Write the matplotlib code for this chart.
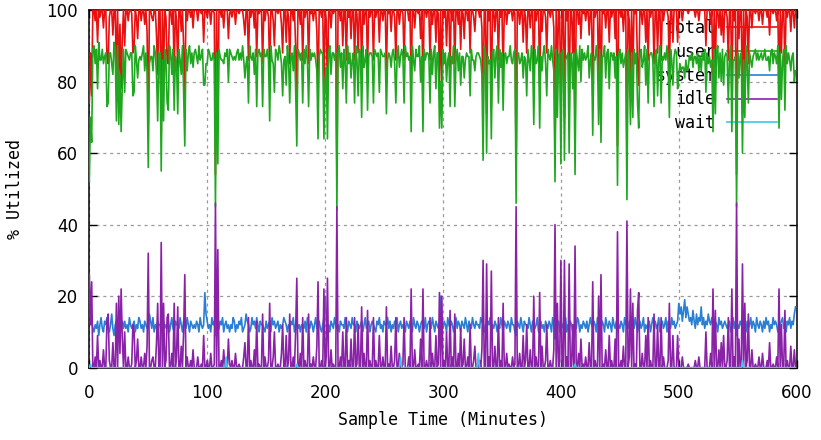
import numpy as np
import matplotlib
matplotlib.use("Agg")
import matplotlib.pyplot as plt

# sample time in minutes, one sample per minute
minutes = np.arange(0, 600)

# % system, 30 samples per row
system = [
    22, 18, 13, 11, 10, 12, 11, 13, 9, 12, 14, 11, 10, 13, 12, 14, 11, 10, 12, 15, 11, 9, 12, 13, 10, 12, 14, 12, 13, 11,
    13, 11, 12, 10, 14, 12, 11, 12, 13, 10, 12, 11, 14, 13, 11, 12, 10, 13, 12, 11, 12, 15, 13, 11, 14, 10, 12, 11, 13, 12,
    12, 10, 14, 13, 11, 12, 12, 13, 10, 12, 14, 11, 10, 13, 12, 12, 11, 14, 12, 10, 13, 12, 11, 14, 12, 10, 13, 12, 11, 12,
    11, 13, 12, 10, 14, 12, 11, 12, 21, 15, 13, 11, 12, 10, 14, 12, 13, 9, 12, 10, 11, 13, 12, 14, 10, 12, 13, 11, 12, 10,
    12, 11, 14, 13, 10, 12, 11, 13, 12, 14, 10, 11, 12, 15, 13, 12, 10, 11, 14, 12, 13, 11, 14, 12, 10, 13, 12, 12, 11, 10,
    13, 11, 12, 13, 10, 14, 12, 13, 11, 12, 13, 10, 12, 11, 12, 14, 13, 12, 10, 12, 11, 13, 12, 14, 10, 12, 13, 11, 12, 10,
    12, 12, 11, 13, 10, 14, 12, 11, 13, 12, 10, 12, 14, 11, 12, 13, 11, 10, 12, 14, 20, 13, 11, 12, 10, 13, 12, 11, 14, 12,
    11, 12, 10, 13, 12, 12, 11, 14, 12, 10, 13, 12, 11, 14, 12, 12, 10, 13, 12, 11, 12, 13, 10, 12, 14, 11, 12, 13, 10, 12,
    13, 12, 11, 10, 13, 12, 14, 11, 12, 10, 13, 12, 12, 14, 11, 13, 10, 12, 11, 13, 12, 14, 10, 12, 13, 11, 12, 12, 10, 13,
    12, 11, 13, 12, 10, 14, 12, 11, 13, 12, 10, 12, 13, 12, 11, 14, 10, 12, 13, 12, 11, 14, 12, 10, 13, 12, 11, 12, 20, 13,
    11, 13, 12, 10, 14, 12, 11, 13, 12, 10, 12, 14, 11, 13, 12, 10, 13, 12, 11, 14, 12, 10, 13, 12, 11, 14, 12, 11, 13, 12,
    12, 11, 14, 13, 12, 10, 12, 11, 13, 12, 14, 9, 12, 11, 13, 12, 10, 12, 11, 14, 12, 10, 13, 12, 11, 13, 12, 10, 14, 12,
    12, 10, 9, 13, 12, 11, 14, 12, 10, 13, 12, 12, 11, 14, 12, 10, 13, 12, 11, 12, 14, 10, 12, 13, 11, 12, 10, 13, 12, 11,
    13, 12, 10, 14, 12, 8, 11, 12, 13, 10, 13, 12, 11, 12, 14, 10, 12, 11, 13, 12, 10, 12, 12, 11, 14, 13, 10, 12, 11, 13,
    12, 11, 13, 10, 12, 14, 12, 11, 13, 12, 10, 14, 12, 11, 11, 13, 12, 10, 14, 12, 11, 13, 12, 10, 14, 12, 11, 13, 11, 12,
    11, 13, 12, 10, 14, 12, 12, 11, 13, 10, 12, 12, 11, 14, 12, 10, 12, 13, 11, 12, 14, 10, 12, 11, 12, 13, 10, 12, 14, 12,
    13, 11, 12, 14, 10, 12, 13, 11, 12, 14, 10, 13, 12, 11, 14, 12, 13, 11, 12, 13, 18, 15, 17, 13, 16, 19, 14, 17, 15, 13,
    14, 12, 16, 13, 11, 15, 12, 14, 13, 17, 12, 14, 11, 13, 12, 15, 13, 12, 14, 12, 11, 13, 12, 10, 14, 12, 13, 11, 12, 13,
    12, 11, 12, 13, 10, 12, 14, 11, 13, 9, 12, 11, 13, 12, 11, 14, 12, 10, 13, 11, 12, 14, 11, 13, 12, 10, 14, 12, 11, 13,
    12, 10, 13, 11, 14, 12, 13, 10, 12, 11, 14, 12, 13, 12, 10, 11, 12, 13, 14, 11, 12, 10, 13, 12, 14, 11, 13, 12, 15, 17,
]

# % idle
idle = [
    26, 12, 24, 0, 0, 3, 0, 9, 0, 2, 0, 0, 5, 0, 0, 13, 15, 2, 0, 0, 7, 0, 0, 18, 0, 20, 4, 22, 8, 0,
    10, 0, 0, 3, 0, 0, 1, 12, 10, 0, 2, 8, 0, 0, 3, 0, 0, 4, 0, 6, 32, 0, 0, 2, 3, 0, 0, 7, 18, 0,
    0, 35, 0, 18, 0, 2, 14, 15, 0, 0, 4, 0, 18, 0, 3, 17, 0, 0, 6, 0, 10, 26, 0, 3, 0, 0, 2, 0, 5, 0,
    0, 0, 3, 0, 0, 1, 0, 9, 0, 0, 2, 0, 0, 4, 0, 0, 1, 46, 0, 33, 0, 0, 2, 0, 5, 0, 0, 0, 8, 1,
    0, 2, 0, 0, 4, 0, 0, 1, 0, 0, 0, 3, 7, 0, 0, 14, 0, 2, 0, 0, 5, 0, 13, 0, 1, 0, 0, 15, 0, 3,
    0, 0, 2, 18, 0, 0, 3, 10, 0, 0, 1, 0, 0, 4, 12, 0, 0, 9, 0, 2, 15, 0, 0, 3, 0, 10, 25, 0, 0, 4,
    0, 14, 0, 2, 0, 0, 15, 0, 1, 0, 3, 0, 0, 6, 24, 0, 0, 2, 0, 22, 0, 3, 25, 0, 0, 5, 0, 1, 0, 0,
    45, 0, 0, 3, 0, 10, 0, 0, 14, 0, 2, 0, 8, 0, 0, 14, 0, 1, 12, 0, 0, 17, 0, 4, 0, 0, 16, 0, 2, 0,
    0, 14, 0, 2, 0, 0, 9, 0, 0, 3, 0, 0, 17, 0, 1, 0, 6, 0, 0, 2, 14, 0, 0, 4, 0, 0, 1, 14, 0, 0,
    0, 3, 0, 22, 0, 0, 5, 0, 0, 1, 0, 8, 0, 22, 0, 0, 2, 0, 0, 14, 0, 4, 0, 0, 9, 0, 1, 21, 0, 20,
    0, 2, 0, 10, 0, 0, 16, 0, 3, 0, 15, 0, 0, 4, 0, 11, 0, 1, 8, 0, 0, 3, 0, 12, 0, 0, 2, 6, 0, 0,
    0, 2, 0, 5, 30, 0, 0, 29, 0, 3, 0, 27, 0, 0, 6, 0, 0, 14, 0, 2, 0, 18, 0, 0, 4, 0, 1, 0, 0, 3,
    0, 1, 45, 0, 0, 4, 0, 0, 9, 0, 2, 12, 0, 0, 5, 0, 0, 20, 0, 3, 0, 0, 21, 0, 6, 0, 0, 2, 12, 0,
    0, 2, 0, 0, 5, 40, 0, 18, 0, 2, 30, 0, 0, 30, 0, 3, 0, 29, 0, 0, 12, 0, 34, 0, 0, 4, 0, 8, 0, 1,
    0, 3, 0, 0, 7, 0, 0, 24, 0, 2, 0, 0, 20, 0, 26, 0, 1, 0, 5, 0, 0, 9, 0, 2, 0, 0, 8, 0, 38, 0,
    0, 2, 0, 6, 0, 0, 41, 0, 3, 22, 0, 18, 0, 1, 0, 16, 21, 0, 0, 4, 0, 0, 9, 0, 14, 0, 2, 0, 0, 15,
    0, 0, 12, 0, 0, 14, 0, 3, 0, 0, 0, 2, 18, 0, 0, 9, 0, 0, 0, 9, 0, 0, 0, 3, 0, 0, 0, 0, 1, 0,
    0, 0, 0, 0, 2, 0, 0, 3, 0, 0, 0, 0, 0, 10, 0, 0, 0, 4, 0, 22, 0, 16, 0, 0, 5, 0, 7, 0, 9, 0,
    0, 2, 14, 0, 0, 22, 0, 3, 0, 46, 0, 8, 0, 0, 29, 0, 18, 0, 2, 15, 0, 0, 5, 0, 0, 1, 0, 0, 3, 0,
    0, 4, 0, 0, 0, 2, 0, 7, 0, 0, 1, 0, 0, 3, 0, 22, 0, 12, 0, 0, 16, 0, 2, 0, 0, 6, 0, 0, 5, 0,
]

# % user
user = [
    52, 70, 63, 89, 90, 85, 89, 78, 91, 86, 86, 89, 85, 87, 88, 73, 74, 88, 88, 85, 82, 91, 88, 69, 90, 68, 82, 66, 79, 89,
    77, 89, 88, 87, 86, 88, 88, 76, 77, 90, 86, 81, 86, 87, 86, 88, 90, 83, 88, 83, 56, 85, 87, 87, 83, 90, 88, 82, 69, 88,
    88, 55, 86, 69, 89, 86, 74, 72, 90, 88, 82, 89, 72, 87, 85, 71, 89, 86, 82, 90, 77, 62, 89, 83, 88, 90, 85, 88, 84, 88,
    89, 87, 85, 90, 86, 87, 89, 79, 79, 85, 85, 89, 88, 86, 86, 88, 86, 45, 88, 57, 89, 87, 86, 86, 85, 88, 87, 89, 80, 89,
    88, 87, 86, 87, 86, 88, 89, 86, 88, 86, 90, 86, 81, 85, 87, 74, 90, 87, 86, 88, 82, 89, 73, 88, 89, 87, 88, 73, 89, 87,
    87, 89, 86, 69, 90, 86, 85, 77, 89, 88, 86, 90, 88, 85, 76, 86, 87, 79, 90, 86, 74, 87, 88, 83, 90, 78, 62, 89, 88, 86,
    88, 74, 89, 85, 90, 86, 73, 89, 86, 88, 87, 88, 86, 83, 64, 87, 89, 88, 88, 64, 80, 84, 64, 88, 90, 82, 88, 88, 86, 88,
    44, 88, 90, 84, 88, 78, 89, 86, 74, 90, 85, 88, 81, 86, 88, 74, 90, 86, 76, 89, 88, 70, 90, 84, 86, 89, 72, 87, 88, 88,
    87, 74, 89, 88, 87, 88, 77, 89, 88, 87, 87, 88, 71, 86, 88, 87, 84, 88, 89, 85, 74, 86, 90, 84, 87, 89, 87, 74, 90, 87,
    88, 86, 87, 66, 90, 86, 83, 89, 87, 87, 90, 80, 87, 66, 89, 86, 88, 88, 87, 74, 89, 82, 88, 90, 78, 88, 88, 67, 80, 67,
    89, 85, 88, 80, 86, 88, 73, 87, 85, 90, 73, 86, 89, 83, 88, 79, 87, 87, 81, 86, 88, 87, 87, 76, 89, 86, 86, 83, 87, 88,
    88, 87, 86, 82, 58, 90, 88, 60, 87, 85, 86, 64, 88, 89, 81, 88, 90, 74, 89, 84, 88, 72, 87, 88, 85, 87, 87, 90, 86, 85,
    88, 89, 46, 87, 88, 85, 86, 88, 81, 87, 86, 76, 89, 86, 83, 90, 87, 68, 89, 85, 86, 90, 67, 87, 83, 88, 90, 85, 76, 89,
    87, 86, 90, 86, 83, 52, 89, 70, 87, 88, 57, 88, 89, 58, 86, 87, 88, 60, 87, 88, 78, 88, 54, 89, 86, 83, 90, 80, 89, 86,
    88, 86, 87, 90, 81, 86, 88, 65, 87, 86, 90, 86, 68, 89, 63, 87, 87, 90, 81, 88, 89, 78, 88, 88, 86, 88, 81, 87, 51, 88,
    89, 85, 88, 84, 86, 88, 47, 89, 84, 68, 88, 70, 89, 85, 88, 74, 67, 87, 89, 84, 86, 90, 79, 89, 74, 87, 88, 88, 86, 73,
    87, 89, 76, 86, 90, 74, 87, 86, 88, 86, 90, 85, 70, 89, 86, 79, 87, 89, 88, 78, 82, 85, 83, 84, 84, 81, 86, 83, 84, 87,
    86, 88, 84, 87, 87, 85, 88, 83, 87, 83, 88, 86, 89, 77, 88, 85, 87, 84, 86, 66, 89, 71, 88, 90, 81, 88, 80, 89, 79, 87,
    88, 87, 74, 87, 90, 66, 86, 86, 87, 45, 88, 81, 87, 88, 60, 86, 70, 90, 85, 74, 88, 86, 84, 87, 88, 89, 86, 88, 86, 87,
    88, 86, 87, 89, 86, 86, 87, 83, 88, 89, 85, 88, 87, 85, 90, 67, 88, 75, 86, 89, 72, 90, 85, 88, 86, 83, 87, 88, 80, 83,
]

# % total
total = [
    74, 88, 76, 100, 100, 97, 100, 91, 100, 98, 100, 100, 95, 100, 100, 87, 85, 98, 100, 100, 93, 100, 100, 82, 100, 80, 96, 78, 92, 100,
    90, 100, 100, 97, 100, 100, 99, 88, 90, 100, 98, 92, 100, 100, 97, 100, 100, 96, 100, 94, 68, 100, 100, 98, 97, 100, 100, 93, 82, 100,
    100, 65, 100, 82, 100, 98, 86, 85, 100, 100, 96, 100, 82, 100, 97, 83, 100, 100, 94, 100, 90, 74, 100, 97, 100, 100, 98, 100, 95, 100,
    100, 100, 97, 100, 100, 99, 100, 91, 100, 100, 98, 100, 100, 96, 100, 100, 99, 54, 100, 67, 100, 100, 98, 100, 95, 100, 100, 100, 92, 99,
    100, 98, 100, 100, 96, 100, 100, 99, 100, 100, 100, 97, 93, 100, 100, 86, 100, 98, 100, 100, 95, 100, 87, 100, 99, 100, 100, 85, 100, 97,
    100, 100, 98, 82, 100, 100, 97, 90, 100, 100, 99, 100, 100, 96, 88, 100, 100, 91, 100, 98, 85, 100, 100, 97, 100, 90, 75, 100, 100, 96,
    100, 86, 100, 98, 100, 100, 85, 100, 99, 100, 97, 100, 100, 94, 76, 100, 100, 98, 100, 78, 100, 97, 75, 100, 100, 95, 100, 99, 100, 100,
    55, 100, 100, 97, 100, 90, 100, 100, 86, 100, 98, 100, 92, 100, 100, 86, 100, 99, 88, 100, 100, 83, 100, 96, 100, 100, 84, 100, 98, 100,
    100, 86, 100, 98, 100, 100, 91, 100, 100, 97, 100, 100, 83, 100, 99, 100, 94, 100, 100, 98, 86, 100, 100, 96, 100, 100, 99, 86, 100, 100,
    100, 97, 100, 78, 100, 100, 95, 100, 100, 99, 100, 92, 100, 78, 100, 100, 98, 100, 100, 86, 100, 96, 100, 100, 91, 100, 99, 79, 100, 80,
    100, 98, 100, 90, 100, 100, 84, 100, 97, 100, 85, 100, 100, 96, 100, 89, 100, 99, 92, 100, 100, 97, 100, 88, 100, 100, 98, 94, 100, 100,
    100, 98, 100, 95, 70, 100, 100, 71, 100, 97, 100, 73, 100, 100, 94, 100, 100, 86, 100, 98, 100, 82, 100, 100, 96, 100, 99, 100, 100, 97,
    100, 99, 55, 100, 100, 96, 100, 100, 91, 100, 98, 88, 100, 100, 95, 100, 100, 80, 100, 97, 100, 100, 79, 100, 94, 100, 100, 98, 88, 100,
    100, 98, 100, 100, 95, 60, 100, 82, 100, 98, 70, 100, 100, 70, 100, 97, 100, 71, 100, 100, 88, 100, 66, 100, 100, 96, 100, 92, 100, 99,
    100, 97, 100, 100, 93, 100, 100, 76, 100, 98, 100, 100, 80, 100, 74, 100, 99, 100, 95, 100, 100, 91, 100, 98, 100, 100, 92, 100, 62, 100,
    100, 98, 100, 94, 100, 100, 59, 100, 97, 78, 100, 82, 100, 99, 100, 84, 79, 100, 100, 96, 100, 100, 91, 100, 86, 100, 98, 100, 100, 85,
    100, 100, 88, 100, 100, 86, 100, 97, 100, 100, 100, 98, 82, 100, 100, 91, 100, 100, 100, 91, 100, 100, 100, 97, 100, 100, 100, 100, 99, 100,
    100, 100, 100, 100, 98, 100, 100, 97, 100, 100, 100, 100, 100, 90, 100, 100, 100, 96, 100, 78, 100, 84, 100, 100, 95, 100, 93, 100, 91, 100,
    100, 98, 86, 100, 100, 78, 100, 97, 100, 54, 100, 92, 100, 100, 71, 100, 82, 100, 98, 85, 100, 100, 95, 100, 100, 99, 100, 100, 97, 100,
    100, 96, 100, 100, 100, 98, 100, 93, 100, 100, 99, 100, 100, 97, 100, 78, 100, 88, 100, 100, 84, 100, 98, 100, 100, 94, 100, 100, 95, 100,
]

# % wait (mostly zero)
wait = [0] * 600
wait_spikes = {1: 1, 116: 3, 176: 1, 264: 3, 330: 4, 412: 1, 554: 2}
for m, v in wait_spikes.items():
    wait[m] = v

series = [
    ("total", total, "#e81010"),
    ("user", user, "#1fa81f"),
    ("system", system, "#2a7fd4"),
    ("idle", idle, "#8a22a8"),
    ("wait", wait, "#3cc8e8"),
]

mono = "DejaVu Sans Mono"

fig = plt.figure(figsize=(8.21, 4.40), dpi=100)
ax = fig.add_axes([89.3 / 821, 1 - 367.7 / 440, (796.7 - 89.3) / 821, (367.7 - 10) / 440])

for name, vals, col in series:
    ax.plot(minutes, vals, color=col, lw=1.2, label=name, zorder=3)

ax.set_xlim(0, 600)
ax.set_ylim(0, 100)
ax.set_xticks(range(0, 601, 100))
ax.set_yticks(range(0, 101, 20))
ax.grid(True, color="#9a9a9a", linestyle=(0, (2.5, 3)), linewidth=0.9)
ax.set_axisbelow(True)
ax.tick_params(direction="in", length=6, width=1.0, top=True, right=True,
               labelsize=12)
ax.tick_params(axis="x", pad=12)
ax.tick_params(axis="y", pad=8)
for sp in ax.spines.values():
    sp.set_linewidth(1.1)

ax.set_xlabel("Sample Time (Minutes)", fontsize=12, family=mono)
ax.set_ylabel("% Utilized", fontsize=12, family=mono)
ax.xaxis.set_label_coords(0.5, -0.12)
ax.yaxis.set_label_coords(-0.092, 0.5)

leg = ax.legend(loc="upper right", bbox_to_anchor=(0.972, 0.975), frameon=False,
                markerfirst=False, prop={"family": mono, "size": 12},
                handlelength=3.0, handletextpad=0.7, labelspacing=0.35,
                borderpad=0, borderaxespad=0)
leg.set_zorder(1)

fig.savefig("out.png", dpi=100)
